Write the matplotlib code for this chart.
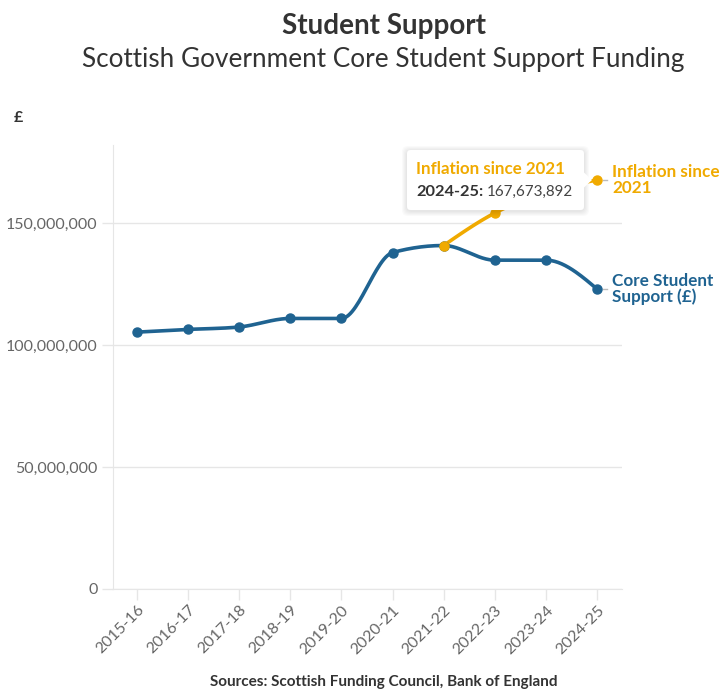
import matplotlib
matplotlib.use("Agg")
import matplotlib.pyplot as plt
from matplotlib.patches import FancyBboxPatch, Polygon
from matplotlib.ticker import FuncFormatter
import numpy as np

plt.rcParams['font.family'] = ['Lato', 'DejaVu Sans']

# academic years and funding series
years = ['2015-16', '2016-17', '2017-18', '2018-19', '2019-20',
         '2020-21', '2021-22', '2022-23', '2023-24', '2024-25']
core_support = [105.3e6, 106.4e6, 107.4e6, 110.9e6, 110.9e6,
                137.9e6, 140.8e6, 134.8e6, 134.8e6, 123.0e6]
# inflation-adjusted path starting from the 2021-22 value
inflation_years = ['2021-22', '2022-23', '2023-24', '2024-25']
inflation = [140.8e6, 154.1e6, 162.6e6, 167673892]

BLUE = '#1f6391'
GOLD = '#f0aa00'
GRID = '#e6e6e6'
TICKCOL = '#666666'
W, H = 721, 691


def monotone_curve(x, y, n=30):
    # monotone cubic (d3 curveMonotoneX style) through the points
    x = np.asarray(x, float)
    y = np.asarray(y, float)
    h = np.diff(x)
    s = np.diff(y) / h
    t = np.zeros(len(x))
    for i in range(1, len(x) - 1):
        p = (s[i - 1] * h[i] + s[i] * h[i - 1]) / (h[i - 1] + h[i])
        t[i] = (np.sign(s[i - 1]) + np.sign(s[i])) * min(abs(s[i - 1]), abs(s[i]), 0.5 * abs(p))
    if len(x) > 2:
        t[0] = (3 * s[0] - t[1]) / 2
        t[-1] = (3 * s[-1] - t[-2]) / 2
    else:
        t[:] = s[0]
    xs, ys = [], []
    for i in range(len(x) - 1):
        u = np.linspace(0, 1, n)
        h00 = 2 * u**3 - 3 * u**2 + 1
        h10 = u**3 - 2 * u**2 + u
        h01 = -2 * u**3 + 3 * u**2
        h11 = u**3 - u**2
        xs.append(x[i] + u * h[i])
        ys.append(h00 * y[i] + h10 * h[i] * t[i] + h01 * y[i + 1] + h11 * h[i] * t[i + 1])
    return np.concatenate(xs), np.concatenate(ys)


fig = plt.figure(figsize=(W / 100, H / 100), dpi=100)
ax = fig.add_axes([113 / W, 1 - 589 / H, (622 - 113) / W, (589 - 145) / H])

xi = np.arange(len(years))
xf = np.array([years.index(y) for y in inflation_years])

cx, cy = monotone_curve(xi, core_support)
ax.plot(cx, cy, color=BLUE, lw=2.6, solid_capstyle='round', zorder=3)
ax.plot(xi, core_support, 'o', color=BLUE, ms=6.5, zorder=4)

ix, iy = monotone_curve(xf, inflation)
ax.plot(ix, iy, color=GOLD, lw=2.6, solid_capstyle='round', zorder=3)
ax.plot(xf, inflation, 'o', color=GOLD, ms=6.5, zorder=4)

ax.set_xlim(-0.47, 9.49)
ax.set_ylim(0, 182e6)
ax.set_yticks([0, 50e6, 100e6, 150e6])
ax.yaxis.set_major_formatter(FuncFormatter(lambda v, p: f'{v:,.0f}'))
ax.set_xticks(xi)
ax.set_xticklabels(years, rotation=45, ha='right', rotation_mode='anchor')
ax.grid(axis='y', color=GRID, lw=1)
ax.set_axisbelow(True)
for side in ['top', 'right']:
    ax.spines[side].set_visible(False)
for side in ['left', 'bottom']:
    ax.spines[side].set_color(GRID)
ax.tick_params(axis='y', colors=GRID, labelcolor=TICKCOL, labelsize=11.5, length=8, width=1, pad=3)
ax.tick_params(axis='x', colors=GRID, labelcolor=TICKCOL, labelsize=11.5, length=8, width=1, pad=2)

# series labels at the right end of each line
ax.annotate('Inflation since\n2021', xy=(xf[-1], inflation[-1]), xytext=(11, 0),
            textcoords='offset points', va='center', ha='left', color=GOLD,
            fontsize=12.3, fontweight='bold', linespacing=1.0, annotation_clip=False)
ax.annotate('Core Student\nSupport (£)', xy=(xi[-1], core_support[-1]), xytext=(11, 0),
            textcoords='offset points', va='center', ha='left', color=BLUE,
            fontsize=12.3, fontweight='bold', linespacing=1.0, annotation_clip=False)
for yv in (inflation[-1], core_support[-1]):
    ax.plot([9.11, 9.2], [yv, yv], color='#bbbbbb', lw=1, clip_on=False, zorder=2)

# tooltip for the last inflation value
L, R, B, T = 407 / W, 584 / W, 1 - 210 / H, 1 - 150 / H
for k in range(1, 6):
    fig.patches.append(FancyBboxPatch((L - k / W, B - (k + 1) / H), R - L + 2 * k / W,
                                      T - B + 2 * k / H,
                                      boxstyle='round,pad=0,rounding_size=0.008',
                                      transform=fig.transFigure, fc='black', ec='none',
                                      alpha=0.018, zorder=5))
fig.patches.append(FancyBboxPatch((L, B), R - L, T - B,
                                  boxstyle='round,pad=0,rounding_size=0.005',
                                  transform=fig.transFigure, fc='white', ec='none', zorder=6))
fig.patches.append(Polygon([(R - 0.5 / W, 1 - 172 / H), (R + 8 / W, 1 - 180 / H),
                            (R - 0.5 / W, 1 - 188 / H)], closed=True,
                           transform=fig.transFigure, fc='white', ec='none', zorder=6))
fig.text(416 / W, 1 - 169 / H, 'Inflation since 2021', color=GOLD, fontsize=12.2,
         fontweight='bold', va='center', ha='left', zorder=7)
t1 = fig.text(416 / W, 1 - 192 / H, '2024-25:', color='#333333', fontsize=11.8,
              fontweight='bold', va='center', ha='left', zorder=7)
fig.canvas.draw()
bb = t1.get_window_extent()
fig.text((bb.x1 + 4) / W, 1 - 192 / H, f'{inflation[-1]:,.0f}', color='#444444',
         fontsize=10.9, va='center', ha='left', zorder=7)

# titles and notes
fig.text(0.532, 1 - 26 / H, 'Student Support', ha='center', va='center',
         fontsize=20, fontweight='bold', color='#333333')
fig.text(0.532, 1 - 60 / H, 'Scottish Government Core Student Support Funding',
         ha='center', va='center', fontsize=18.8, color='#333333')
fig.text(18 / W, 1 - 118 / H, '£', ha='center', va='center', fontsize=11.5,
         fontweight='bold', color='#333333')
fig.text(0.532, 1 - 682 / H, 'Sources: Scottish Funding Council, Bank of England',
         ha='center', va='center', fontsize=11, fontweight='bold', color='#333333')

fig.savefig('out.png', dpi=100)
